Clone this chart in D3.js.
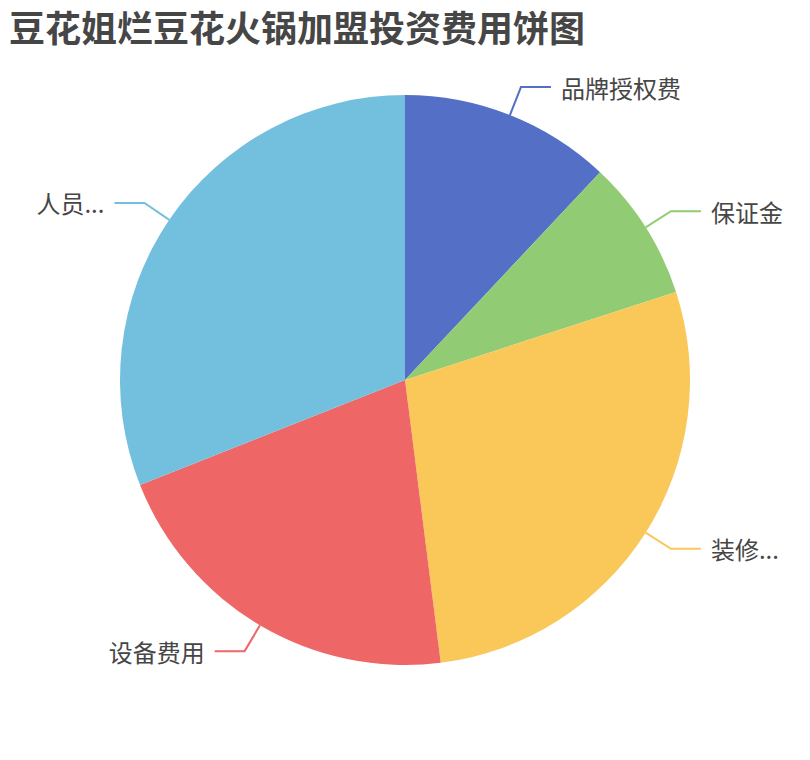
<html>
<head>
<meta charset="utf-8">
<title>豆花姐烂豆花火锅加盟投资费用饼图</title>
<style type="text/css">
body { margin: 0; background: #fff; }
svg { font-family: "Noto Sans CJK SC", "Noto Sans", sans-serif; }
.title { font-size: 36px; font-weight: bold; fill: #464646; }
.label { font-size: 24px; fill: #464646; }
.line { fill: none; stroke-width: 2px; }
</style>
</head>
<body>
<script src="https://d3js.org/d3.v7.min.js"></script>
<script>
var w = 810, h = 760;
var cx = 405, cy = 380, r = 285;
var len1 = 30, len2 = 30, gap = 10;

// data
var names  = ["品牌授权费", "保证金", "装修...", "设备费用", "人员..."];
var values = [12, 8, 28, 21, 31];
var colors = ["#5470c6", "#91cc75", "#fac858", "#ee6666", "#73c0de"];

var svg = d3.select("body").append("svg")
    .attr("width", w)
    .attr("height", h);

svg.append("text")
    .attr("class", "title")
    .attr("x", 9)
    .attr("y", 42)
    .text("豆花姐烂豆花火锅加盟投资费用饼图");

var pie = d3.pie().sort(null).value(function(d) { return d; });
var arcs = pie(values);
var arc = d3.arc().innerRadius(0).outerRadius(r);

var g = svg.append("g").attr("transform", "translate(" + cx + "," + cy + ")");

g.selectAll("path.slice")
  .data(arcs)
  .enter().append("path")
    .attr("class", "slice")
    .attr("d", arc)
    .attr("fill", function(d, i) { return colors[i]; });

// label lines, radial piece then horizontal piece
function pt(a, rad) { return [rad * Math.sin(a), -rad * Math.cos(a)]; }

arcs.forEach(function(d, i) {
  var mid = (d.startAngle + d.endAngle) / 2;
  var p0 = pt(mid, r), p1 = pt(mid, r + len1);
  var right = Math.sin(mid) >= 0;
  var p2 = [p1[0] + (right ? len2 : -len2), p1[1]];
  g.append("polyline")
    .attr("class", "line")
    .attr("stroke", colors[i])
    .attr("points", [p0, p1, p2].map(function(p) { return p.join(","); }).join(" "));
  g.append("text")
    .attr("class", "label")
    .attr("x", p2[0] + (right ? gap : -gap))
    .attr("y", p2[1])
    .attr("dominant-baseline", "central")
    .attr("text-anchor", right ? "start" : "end")
    .text(names[i]);
});
</script>
</body>
</html>
